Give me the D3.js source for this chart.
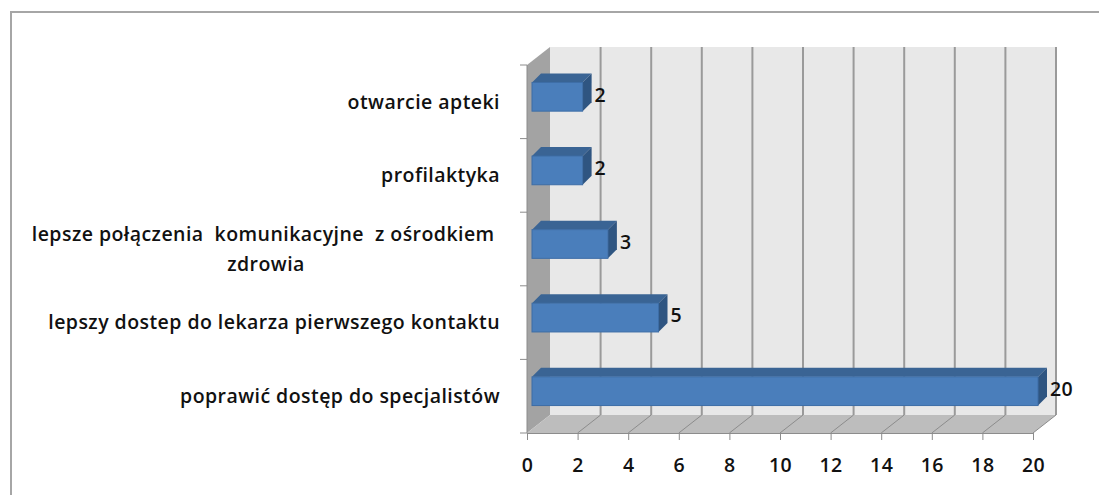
<!DOCTYPE html>
<html lang="pl">
<head>
    <meta charset="UTF-8">
    <title>Oczekiwane zmiany</title>
    <script src="https://d3js.org/d3.v7.min.js"></script>
    <style>
        body {
            margin: 0;
            background: #ffffff;
        }

        .label {
            font-family: "Open Sans", sans-serif;
            font-weight: 600;
            font-size: 19.5px;
            letter-spacing: 0.45px;
            fill: #111;
            white-space: pre;
        }
    </style>
</head>

<body>
    <div id="chart"></div>

    <script>
        // categories top -> bottom, multi-line labels split by "\n"
        const categories = [
            "otwarcie apteki",
            "profilaktyka",
            "lepsze połączenia  komunikacyjne  z ośrodkiem \nzdrowia",
            "lepszy dostep do lekarza pierwszego kontaktu",
            "poprawić dostęp do specjalistów"
        ];
        const values = [2, 2, 3, 5, 20];
        const xTicks = [0, 2, 4, 6, 8, 10, 12, 14, 16, 18, 20];

        const W = 1099, H = 495;
        // front plane of the 3D box
        const pLeft = 527, pRight = 1033, pTop = 65, pBottom = 433;
        // wall depth
        const dx = 23, dy = -18;
        // bar depth and its offset inside the box
        const bdx = 9, bdy = -9, off = 5;

        const svg = d3.select("#chart")
            .append("svg")
            .attr("width", W)
            .attr("height", H);

        // outer frame
        svg.append("rect")
            .attr("x", 11).attr("y", 12)
            .attr("width", W + 10).attr("height", H + 10)
            .attr("fill", "none")
            .attr("stroke", "#a6a6a6")
            .attr("stroke-width", 2);

        const x = d3.scaleLinear().domain([0, 20]).range([pLeft, pRight]);
        const y = d3.scaleBand().domain(categories).range([pTop, pBottom]);

        // back wall
        svg.append("rect")
            .attr("x", pLeft + dx).attr("y", pTop + dy)
            .attr("width", pRight - pLeft).attr("height", pBottom - pTop)
            .attr("fill", "#e8e8e8");

        // side wall
        svg.append("polygon")
            .attr("points", [[pLeft, pTop], [pLeft + dx, pTop + dy], [pLeft + dx, pBottom + dy], [pLeft, pBottom]].join(" "))
            .attr("fill", "#a3a3a3");

        // floor
        svg.append("polygon")
            .attr("points", [[pLeft, pBottom], [pRight, pBottom], [pRight + dx, pBottom + dy], [pLeft + dx, pBottom + dy]].join(" "))
            .attr("fill", "#bdbdbd");

        // gridlines on back wall
        svg.selectAll(".grid")
            .data(xTicks.slice(1))
            .enter().append("line")
            .attr("x1", d => x(d) + dx).attr("x2", d => x(d) + dx)
            .attr("y1", pTop + dy).attr("y2", pBottom + dy)
            .attr("stroke", "#9a9a9a")
            .attr("stroke-width", 2);

        // gridlines on floor
        svg.selectAll(".fgrid")
            .data(xTicks.slice(1))
            .enter().append("line")
            .attr("x1", d => x(d)).attr("x2", d => x(d) + dx)
            .attr("y1", pBottom).attr("y2", pBottom + dy)
            .attr("stroke", "#8c8c8c")
            .attr("stroke-width", 1);

        // x axis
        const xAxis = svg.append("g")
            .attr("transform", `translate(0,${pBottom})`)
            .call(d3.axisBottom(x).tickValues(xTicks).tickSize(7).tickPadding(18));
        xAxis.select(".domain").attr("stroke", "#8c8c8c");
        xAxis.selectAll(".tick line").attr("stroke", "#8c8c8c");
        xAxis.selectAll(".tick text")
            .attr("class", "label")
            .attr("fill", "#111");

        // y axis (ticks at category boundaries)
        svg.append("line")
            .attr("x1", pLeft).attr("x2", pLeft)
            .attr("y1", pTop).attr("y2", pBottom)
            .attr("stroke", "#8c8c8c");
        const bounds = categories.map(c => y(c)).concat([pBottom]);
        svg.selectAll(".ytick")
            .data(bounds)
            .enter().append("line")
            .attr("x1", pLeft - 7).attr("x2", pLeft)
            .attr("y1", d => d).attr("y2", d => d)
            .attr("stroke", "#8c8c8c");

        // bars
        const bh = y.step() * 0.39;
        const bars = svg.selectAll(".bar")
            .data(categories.map((c, i) => ({ c, v: values[i] })))
            .enter().append("g");

        const bx0 = d => x(0) + off;
        const bx1 = d => x(d.v) + off;
        const by0 = d => y(d.c) + y.bandwidth() / 2 - bh / 2 - off;
        const by1 = d => by0(d) + bh;

        // top face
        bars.append("polygon")
            .attr("points", d => [[bx0(d), by0(d)], [bx1(d), by0(d)], [bx1(d) + bdx, by0(d) + bdy], [bx0(d) + bdx, by0(d) + bdy]].join(" "))
            .attr("fill", "#3a6494");
        // right face
        bars.append("polygon")
            .attr("points", d => [[bx1(d), by0(d)], [bx1(d) + bdx, by0(d) + bdy], [bx1(d) + bdx, by1(d) + bdy], [bx1(d), by1(d)]].join(" "))
            .attr("fill", "#2f5581");
        // front face
        bars.append("rect")
            .attr("x", bx0).attr("y", by0)
            .attr("width", d => bx1(d) - bx0(d))
            .attr("height", bh)
            .attr("fill", "#4a7ebb")
            .attr("stroke", "#3d6da6")
            .attr("stroke-width", 1);

        // value labels
        bars.append("text")
            .attr("class", "label")
            .attr("x", d => bx1(d) + bdx + 3)
            .attr("y", d => (by0(d) + by1(d)) / 2 - 2)
            .attr("dy", "0.35em")
            .text(d => d.v);

        // category labels
        categories.forEach(c => {
            const lines = c.split("\n");
            const cy = y(c) + y.bandwidth() / 2;
            const t = svg.append("text")
                .attr("class", "label")
                .attr("text-anchor", lines.length > 1 ? "middle" : "end");
            lines.forEach((ln, i) => {
                t.append("tspan")
                    .attr("x", lines.length > 1 ? 266 : 500)
                    .attr("y", cy + (i - (lines.length - 1) / 2) * 30)
                    .attr("dy", "0.35em")
                    .text(ln);
            });
        });
    </script>
</body>

</html>
